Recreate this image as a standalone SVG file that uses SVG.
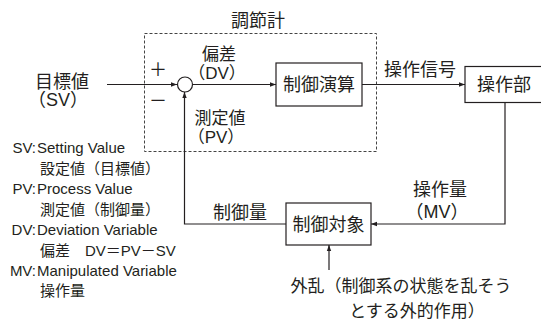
<svg xmlns="http://www.w3.org/2000/svg" width="541" height="322" viewBox="0 0 541 322">
<style>
text{font-family:"Liberation Sans","Noto Sans CJK JP",sans-serif;fill:#231f20}
.m{font-size:18px;text-anchor:middle}
.s{font-size:17px;text-anchor:middle}
.l{font-size:15px}
.le{font-size:15px;text-anchor:end}
.b{fill:#fff;stroke:#231f20;stroke-width:1.2}
.c{fill:none;stroke:#231f20;stroke-width:1.2}
</style>
<defs>
<marker id="ah" viewBox="0 0 6 6" refX="6" refY="3" markerWidth="6" markerHeight="6" markerUnits="userSpaceOnUse" orient="auto">
<path d="M0,0.8 L6,3 L0,5.2 Z" fill="#231f20"/>
</marker>
</defs>
<rect width="541" height="322" fill="#fff"/>
<g id="controller">
<rect x="144.5" y="33.5" width="232" height="118" fill="none" stroke="#444" stroke-width="1" stroke-dasharray="3,2"/>
<text class="m" x="258" y="27">調節計</text>
</g>
<g id="connectors">
<path class="c" d="M107,84.5 H177" marker-end="url(#ah)"/>
<path class="c" d="M192.5,84.5 H276" marker-end="url(#ah)"/>
<path class="c" d="M362,84.5 H465" marker-end="url(#ah)"/>
<path class="c" d="M505,103 V224 H371" marker-end="url(#ah)"/>
<path class="c" d="M286,224 H184.5 V92" marker-end="url(#ah)"/>
<path class="c" d="M329,270 V245" marker-end="url(#ah)"/>
</g>
<g id="sum">
<circle cx="185" cy="84.5" r="7.5" fill="#fff" stroke="#231f20" stroke-width="1.2"/>
<text class="m" x="158" y="76">＋</text>
<text class="m" x="158" y="107">－</text>
</g>
<g id="sv">
<text class="m" x="62" y="88">目標値</text>
<text class="m" x="58" y="106">（SV）</text>
</g>
<g id="dv">
<text class="s" x="219" y="60">偏差</text>
<text class="s" x="217" y="79">（DV）</text>
</g>
<g id="pv">
<text class="s" x="220" y="124">測定値</text>
<text class="s" x="216" y="143">（PV）</text>
</g>
<g id="calc">
<rect class="b" x="276" y="63" width="86" height="43"/>
<text class="m" x="319" y="91">制御演算</text>
</g>
<g id="signal">
<text class="m" x="420" y="76">操作信号</text>
</g>
<g id="actuator">
<rect class="b" x="465" y="66.5" width="90" height="36"/>
<text class="m" x="504" y="91">操作部</text>
</g>
<g id="mv">
<text class="m" x="440" y="196">操作量</text>
<text class="m" x="437" y="218">（MV）</text>
</g>
<g id="plant">
<rect class="b" x="286" y="203" width="85" height="42"/>
<text class="m" x="328.5" y="231">制御対象</text>
</g>
<g id="cv">
<text class="m" x="240" y="219">制御量</text>
</g>
<g id="disturbance">
<text class="s" x="401" y="292">外乱（制御系の状態を乱そう</text>
<text class="s" x="417" y="317">とする外的作用）</text>
</g>
<g id="legend">
<text class="le" x="36" y="153">SV:</text><text class="l" x="37" y="153">Setting Value</text>
<text class="l" x="40" y="174">設定値（目標値）</text>
<text class="le" x="36" y="194">PV:</text><text class="l" x="37" y="194">Process Value</text>
<text class="l" x="40" y="215">測定値（制御量）</text>
<text class="le" x="36" y="235">DV:</text><text class="l" x="37" y="235">Deviation Variable</text>
<text class="l" x="40" y="256">偏差　DV＝PV－SV</text>
<text class="le" x="36" y="276">MV:</text><text class="l" x="37" y="276">Manipulated Variable</text>
<text class="l" x="40" y="296">操作量</text>
</g>
</svg>
